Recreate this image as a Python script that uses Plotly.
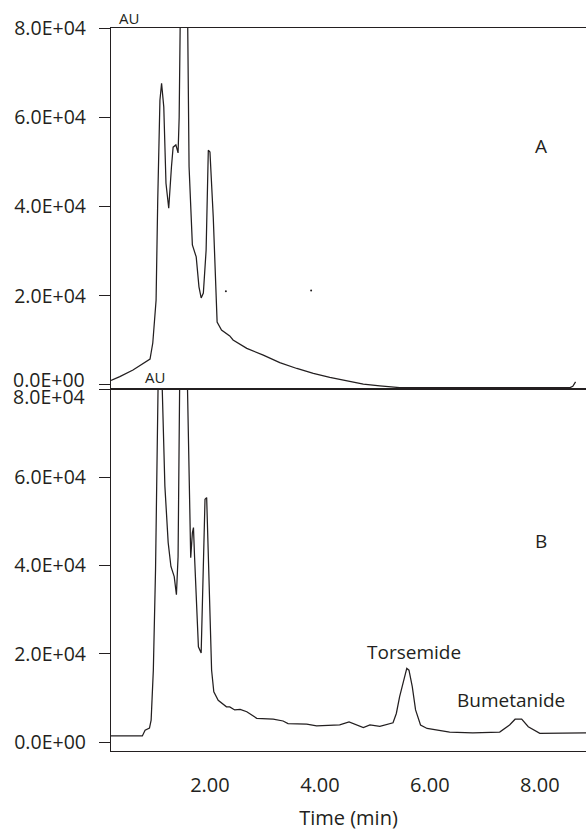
import plotly.graph_objects as go

# Chromatogram A (top panel): time (min), response (AU)
time_a = [0.2, 0.36, 0.6, 0.91, 0.96, 1.02, 1.05, 1.09, 1.12, 1.16, 1.2, 1.25, 1.3, 1.33, 1.38,
          1.42, 1.44, 1.46, 1.52, 1.58, 1.62, 1.68, 1.75, 1.8, 1.84, 1.88, 1.93, 1.97, 2.0, 2.06,
          2.11, 2.13, 2.21, 2.36, 2.42, 2.67, 2.97, 3.27, 3.58, 3.88, 4.18, 4.49, 4.79, 5.09,
          5.45, 6.5, 8.55, 8.6, 8.65]
resp_a = [1000, 1860, 3360, 5800, 9400, 19000, 41400, 63800, 67600, 62300, 45200, 39600, 48900,
          53300, 53800, 52000, 60000, 100000, 150000, 100000, 48900, 31400, 28700, 22000, 19500,
          20600, 30200, 52600, 52200, 37600, 17500, 14100, 12300, 11000, 10100, 8200, 6700, 5000,
          3700, 2600, 1700, 900, 200, -200, -600, -600, -600, -300, 700]

# stray specks in panel A
speck_t = [2.29, 3.84]
speck_r = [21000, 21200]

# Chromatogram B (bottom panel)
time_b = [0.2, 0.77, 0.82, 0.9, 0.93, 0.97, 1.01, 1.07, 1.1, 1.13, 1.18, 1.24, 1.29, 1.35, 1.39,
          1.42, 1.44, 1.5, 1.59, 1.62, 1.65, 1.68, 1.7, 1.72, 1.76, 1.79, 1.84, 1.88, 1.91, 1.94,
          1.98, 2.03, 2.07, 2.15, 2.3, 2.36, 2.45, 2.55, 2.67, 2.85, 3.15, 3.33, 3.42, 3.76, 3.94,
          4.36, 4.53, 4.67, 4.79, 4.91, 5.09, 5.33, 5.39, 5.45, 5.52, 5.56, 5.58, 5.62, 5.68, 5.74,
          5.83, 5.95, 6.36, 6.78, 7.27, 7.45, 7.55, 7.67, 7.79, 8.0, 8.84]
resp_b = [1400, 1400, 2700, 3200, 5000, 16300, 39000, 100000, 120000, 81000, 58000, 45200, 39800,
          37500, 33400, 42000, 81000, 150000, 81000, 61700, 41800, 47400, 48600, 42000, 27700,
          21600, 20200, 39000, 55000, 55400, 39000, 16300, 11400, 9500, 8000, 8000, 7300, 7400,
          6900, 5400, 5200, 4800, 4200, 4100, 3700, 3900, 4600, 3900, 3300, 3900, 3600, 4400,
          6500, 10300, 14100, 16300, 16700, 16300, 12600, 7300, 3900, 3100, 2300, 2100, 2300,
          3900, 5200, 5200, 3500, 2000, 2100]

y_tickvals = [0, 20000, 40000, 60000, 80000]
y_ticktext = ["0.0E+00", "2.0E+04", "4.0E+04", "6.0E+04", "8.0E+04"]
x_tickvals = [2, 4, 6, 8]
x_ticktext = ["2.00", "4.00", "6.00", "8.00"]

peak_names = ["Torsemide", "Bumetanide"]
peak_label_t = [5.71, 7.47]
peak_label_r = [20400, 9500]

INK = "#231f20"
FONT = "Open Sans"
TICK_SIZE = 19.5

fig = go.Figure()
fig.add_trace(go.Scatter(x=time_a, y=resp_a, mode="lines", line=dict(color=INK, width=1.25),
                         xaxis="x", yaxis="y", showlegend=False, hoverinfo="skip"))
fig.add_trace(go.Scatter(x=speck_t, y=speck_r, mode="markers", marker=dict(color=INK, size=2),
                         xaxis="x", yaxis="y", showlegend=False, hoverinfo="skip"))
fig.add_trace(go.Scatter(x=time_b, y=resp_b, mode="lines", line=dict(color=INK, width=1.25),
                         xaxis="x2", yaxis="y2", showlegend=False, hoverinfo="skip"))

split = (751 - 389) / 723

# the two labels at the panel seam are nudged apart (as in the original), so they are
# written as annotations next to their ticks instead of as axis tick labels
top_ticktext = [""] + y_ticktext[1:]
bottom_ticktext = y_ticktext[:-1] + [""]

common_y = dict(tickvals=y_tickvals, ticks="outside", ticklen=11,
                tickwidth=1.3, tickcolor=INK, showline=True, linecolor=INK, linewidth=1.3,
                showgrid=False, zeroline=False, ticklabelstandoff=9, automargin=False,
                tickfont=dict(family=FONT, size=TICK_SIZE, color=INK))

fig.update_layout(
    width=586, height=831,
    margin=dict(l=111, r=0, t=28, b=80),
    plot_bgcolor="white", paper_bgcolor="white",
    font=dict(family=FONT, color=INK),
    xaxis=dict(domain=[0, 1], range=[0.2, 8.84], anchor="y", showline=True, mirror=True,
               linecolor=INK, linewidth=1.3, showticklabels=False, ticks="", showgrid=False,
               zeroline=False, automargin=False),
    yaxis=dict(domain=[split, 1], range=[-900, 80000], anchor="x", ticktext=top_ticktext,
               **common_y),
    xaxis2=dict(domain=[0, 1], range=[0.2, 8.84], anchor="y2", matches="x", showline=True,
                mirror=True, linecolor=INK, linewidth=1.3, tickvals=x_tickvals,
                ticktext=x_ticktext, ticks="outside", ticklen=16, tickcolor="rgba(0,0,0,0)",
                showgrid=False, zeroline=False, automargin=False,
                tickfont=dict(family=FONT, size=20, color=INK),
                title=dict(text="Time (min)", font=dict(family=FONT, size=20, color=INK),
                           standoff=14)),
    yaxis2=dict(domain=[0, split], range=[-2000, 80000], anchor="x2", ticktext=bottom_ticktext,
                **common_y),
)


def px_ann(text, cx, cy, size, xanchor="center"):
    return dict(text=text, x=(cx - 111) / 475, y=(751 - cy) / 723, xref="paper", yref="paper",
                xanchor=xanchor, yanchor="middle", showarrow=False,
                font=dict(family=FONT, size=size, color=INK))


annotations = [
    px_ann("AU", 129, 18, 15),
    px_ann("AU", 155, 377, 15),
    px_ann("A", 541, 146, 19),
    px_ann("B", 541, 541, 19),
    px_ann(y_ticktext[0], 87, 379, TICK_SIZE, xanchor="right"),
    px_ann(y_ticktext[-1], 87, 396, TICK_SIZE, xanchor="right"),
]
for name, t, r in zip(peak_names, peak_label_t, peak_label_r):
    annotations.append(dict(text=name, x=t, y=r, xref="x2", yref="y2", showarrow=False,
                            xanchor="center", yanchor="middle",
                            font=dict(family=FONT, size=19, color=INK)))
fig.update_layout(annotations=annotations)

fig.write_html("out.html", config={"displayModeBar": False},
               post_script="document.body.style.margin='0';document.body.style.overflow='hidden';")
